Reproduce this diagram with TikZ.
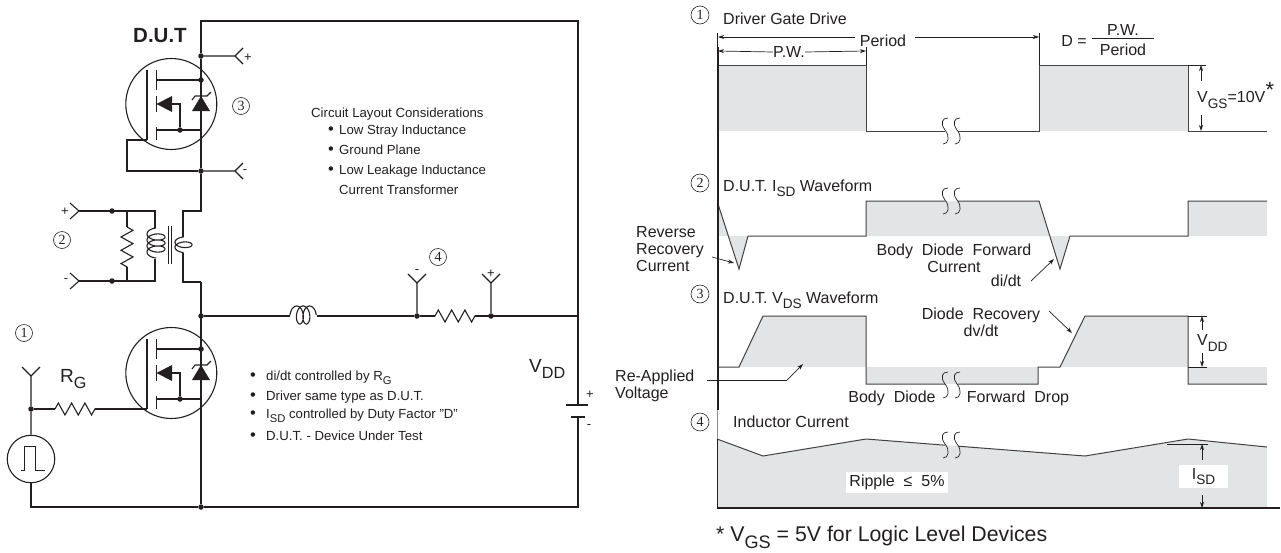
\documentclass[tikz,border=0pt]{standalone}
\usepackage{fontspec}
\setmainfont{Liberation Sans}
\newfontfamily\digitfont{Liberation Serif}
\usepackage{graphicx}
\usepackage{tikz}
\usetikzlibrary{arrows.meta,decorations.pathmorphing,positioning}
\definecolor{ink}{HTML}{231F20}
\definecolor{greyfill}{HTML}{E3E4E6}
\tikzset{
  wire/.style={draw=ink,line width=1.1pt},
  thinwire/.style={draw=ink,line width=0.7pt},
  wave/.style={draw=ink!85,line width=1pt,line join=miter},
  dim/.style={draw=ink,line width=0.7pt,-{Stealth[length=6pt,width=4pt]}},
  junction/.style={circle,fill=ink,inner sep=0pt,minimum size=5.5pt},
  res/.style={wire,decorate,decoration={zigzag,amplitude=6pt,segment length=13.3pt}},
  circnum/.style={circle,draw=ink,line width=0.6pt,inner sep=0pt,minimum size=17pt,text=ink,font=\digitfont\fontsize{14}{14}\selectfont},
  small/.style={text=ink,inner sep=0pt,align=left,font=\fontsize{13.2}{15}\selectfont},
  big/.style={text=ink,inner sep=0pt,align=center,font=\fontsize{16}{17}\selectfont},
  large/.style={text=ink,inner sep=0pt,font=\fontsize{21.3}{23}\selectfont},
  sign/.style={text=ink,inner sep=0pt,font=\fontsize{13}{13}\selectfont},
  whitebox/.style={fill=white,draw=none},
}
\newcommand{\blt}[1]{\makebox[#1][l]{\scalebox{1.25}{\textbullet}}}
\newcommand{\subs}[1]{\raisebox{-.32em}{\scalebox{.85}{#1}}}
% coils: #1,#2 left (top) end, #3 turns, #4 pitch, #5 half width along, #6 half width across
\newcommand{\coilh}[6]{
\draw[wire,smooth] plot[domain=90:{90+360*#3-180},samples=90] ({#1+#5-#4/4+#4*\x/360-#5*sin(\x)},{#2+#6*cos(\x)});
}
\newcommand{\coilv}[6]{
\draw[wire,smooth] plot[domain=90:{90+360*#3-180},samples=110] ({#1+#6*cos(\x)},{#2+#5-#4/4+#4*\x/360-#5*sin(\x)});
}
% one MOSFET, #1 is the prefix of its names, #2 the y offset
\newcommand{\mosfet}[2]{
\begin{scope}[shift={(0,#2)}]
\node [circle,wire,minimum size=91pt,inner sep=0pt] (#1) at (171.3,0) {};
\coordinate (#1D) at (201,-24);
\coordinate (#1S) at (201,26);
\coordinate (#1G) at (147,36);
\draw[wire] (147,-34) -- (#1G);
\draw[wire] (156.5,-34) -- (156.5,-14) (156.5,-8) -- (156.5,8) (156.5,23) -- (156.5,36);
\draw[wire] (156.5,-24) -- (#1D);
\draw[wire] (156.5,26) -- (#1S);
\node [junction] (#1d) at (#1D) {};
\node [junction] (#1b) at (180,26) {};
\fill[ink] (156.5,0) -- (172,-8) -- (172,8) -- cycle;
\draw[wire] (172,0) -- (180,0) -- (#1b);
\fill[ink] (201,-8) -- (210,7) -- (192,7) -- cycle;
\draw[wire] (192,-4) -- (195,-8) -- (207,-8) -- (211,-12);
\end{scope}}
% the break in a waveform, two long S curves
\newcommand{\breakmark}[2]{
\foreach \bx in {945,957}
  \draw[thinwire] (\bx+3,#2-13) .. controls (\bx-3,#2-13) and (\bx-5,#2-8) .. (\bx,#2-1) .. controls (\bx+5,#2+5) and (\bx+4,#2+13) .. (\bx-2,#2+13);
}
\begin{document}
\begin{tikzpicture}[x=1pt,y=-1pt]
\useasboundingbox (0,0) rectangle (1281,552);
% circuit
\mosfet{Qa}{104}
\mosfet{Qb}{373}
\coordinate (TL) at (201,21);
\coordinate (TR) at (578,21);
\coordinate (BR) at (578,507);
\coordinate (BL) at (31,507);
\node [junction] (Jup) at (201,56) {};
\node [junction] (Jdn) at (201,171) {};
\node [junction] (Jmid) at (201,316) {};
\node [junction] (Jbot) at (201,507) {};
\coordinate (Tup) at (235,56);
\coordinate (Tdn) at (235,171);
\draw[wire] (Jbot) -- (BR) -- (TR) -- (TL) -- (Jup) -- (Jdn);
\draw[wire] (Jup) -- (Tup) -- ++(8,-8) (Tup) -- ++(8,8);
\draw[wire] (Jdn) -- (Tdn) -- ++(8,-8) (Tdn) -- ++(8,8);
\draw[wire] (QaG) -- (127,140) -- (127,171) -- (Jdn);
% current transformer
\coordinate (Sa) at (201,211);
\coordinate (Sb) at (201,282);
\coordinate (Tpa) at (79,211);
\coordinate (Tpb) at (79,281);
\node [junction] (Jpa) at (112,211) {};
\node [junction] (Jpb) at (112,281) {};
\coordinate (Pa) at (155,211);
\coordinate (Pb) at (155,281);
\draw[wire] (Jdn) -- (Sa) -- (183,211) -- (183,237);
\draw[wire] (183,253) -- (183,282) -- (Sb);
\coilv{183.5}{237}{2}{5}{4}{8.5}
\draw[wire] (Tpa) -- (Pa) -- (155,228);
\draw[wire] (155,259) -- (Pb) -- (Tpb);
\coilv{156}{228}{4}{6}{4.5}{9}
\draw[thinwire] (168,226) -- (168,264) (171,226) -- (171,264);
\draw[wire] (Tpa) -- ++(-9,-8) (Tpa) -- ++(-9,8);
\draw[wire] (Tpb) -- ++(-9,-8) (Tpb) -- ++(-9,8);
\draw[wire] (127,211) -- (127,227);
\draw[wire] (127,267) -- (127,281);
\draw[res] (127,227) -- (127,267);
% main branch
\coordinate (Mr) at (578,316);
\node [junction] (Jma) at (417,316) {};
\node [junction] (Jmb) at (491,316) {};
\coordinate (Ya) at (417,283);
\coordinate (Yb) at (491,283);
\draw[wire] (Sb) -- (Jbot);
\draw[wire] (Jmid) -- (290,316);
\coilh{290}{315}{3}{6.5}{5}{9}
\draw[wire] (317,316) -- (Jma) -- (435,316);
\draw[res] (435,316) -- (475,316);
\draw[wire] (475,316) -- (Mr);
\draw[wire] (Jma) -- (Ya) -- ++(-9,-9) (Ya) -- ++(9,-9);
\draw[wire] (Jmb) -- (Yb) -- ++(-9,-9) (Yb) -- ++(9,-9);
% battery
\fill[white] (570,406) rectangle (586,416);
\draw[wire] (566,405) -- (588,405);
\draw[wire] (571,417) -- (585,417);
% gate drive
\node [junction] (Jg) at (31,409) {};
\coordinate (Yg) at (31,376);
\node [circle,wire,minimum size=47.5pt,inner sep=0pt] (Gen) at (31,459) {};
\draw[wire] (QbG) -- (95,409);
\draw[res] (55,409) -- (95,409);
\draw[wire] (55,409) -- (Jg);
\draw[wire] (Gen) -- (Jg) -- (Yg) -- ++(-9,-9) (Yg) -- ++(9,-9);
\draw[wire] (Gen) -- (BL) -- (Jbot);
\draw[thinwire] (21,470) -- (24,470) -- (24,446) -- (35,446) -- (35,470) -- (45,470);
% circuit labels
\node [text=ink,inner sep=0pt,font=\bfseries\fontsize{20.5}{20.5}\selectfont] (dut) at (160,36) {D.U.T};
\node [circnum] (n3) at (241,106) {3};
\node [circnum] (n2) at (62,240) {2};
\node [circnum] (n1) at (24,333) {1};
\node [circnum] (n4) at (438,257) {4};
\node [sign] (pa) at (248,58) {+};
\node [sign] (ma) at (245,172) {-};
\node [sign] (pb) at (65,212) {+};
\node [sign] (mb) at (66,281) {-};
\node [sign] (mc) at (417,272) {-};
\node [sign] (pc) at (491,274) {+};
\node [sign] (pd) at (590,395) {+};
\node [sign] (md) at (589,427) {-};
\node [text=ink,inner sep=0pt,anchor=west,font=\fontsize{19}{19}\selectfont] (rg) at (60,379) {R\subs{G}};
\node [text=ink,inner sep=0pt,anchor=west,font=\fontsize{19}{19}\selectfont] (vdd) at (529,369) {V\subs{DD}};
\node [small,anchor=west] (layout) at (311,114) {Circuit Layout Considerations};
\node [small,anchor=west] (la) at (328,131) {\blt{11pt}Low Stray Inductance};
\node [small,anchor=west] (lb) at (328,150) {\blt{11pt}Ground Plane};
\node [small,anchor=west] (lc) at (328,171) {\blt{11pt}Low Leakage Inductance};
\node [small,anchor=west] (ld) at (339,190) {Current Transformer};
\node [small,anchor=west] (ba) at (250,378) {\blt{16pt}di/dt controlled by R\subs{G}};
\node [small,anchor=west] (bb) at (250,397) {\blt{16pt}Driver same type as D.U.T.};
\node [small,anchor=west] (bc) at (250,416) {\blt{16pt}I\subs{SD} controlled by Duty Factor \symbol{34}D\symbol{34}};
\node [small,anchor=west] (bd) at (250,436) {\blt{16pt}D.U.T. - Device Under Test};
% waveform fills
\fill[greyfill] (718,65) rectangle (866,131);
\fill[greyfill] (1039,65) rectangle (1188,131);
\fill[greyfill] (718,204) -- (729,236) -- (718,236) -- cycle;
\fill[greyfill] (729,236) -- (739,269) -- (748,236) -- cycle;
\fill[greyfill] (866,201) -- (1039,201) -- (1050,236) -- (866,236) -- cycle;
\fill[greyfill] (1050,236) -- (1060,269) -- (1070,236) -- cycle;
\fill[greyfill] (1188,201) rectangle (1267,236);
\fill[greyfill] (739,367) -- (763,316) -- (866,316) -- (866,367) -- cycle;
\fill[greyfill] (866,367) rectangle (1038,384);
\fill[greyfill] (1060,367) -- (1085,316) -- (1188,316) -- (1188,367) -- cycle;
\fill[greyfill] (1188,367) rectangle (1267,384);
\fill[greyfill] (717,439) -- (763,456) -- (866,439) -- (1085,456) -- (1188,439) -- (1267,447) -- (1267,508) -- (717,508) -- cycle;
% waveforms
\draw[wave] (718,65) -- (866,65) -- (866,131) -- (945,131) (958,131) -- (1039,131) -- (1039,65) -- (1188,65) -- (1188,131) -- (1267,131);
\draw[wave] (718,204) -- (739,269) -- (748,236) -- (866,236) -- (866,201) -- (945,201) (958,201) -- (1039,201) -- (1060,269) -- (1070,236) -- (1188,236) -- (1188,201) -- (1267,201);
\draw[wave] (718,367) -- (739,367) -- (763,316) -- (866,316) -- (866,384) -- (945,384) (958,384) -- (1038,384) -- (1038,367) -- (1060,367) -- (1085,316) -- (1188,316) -- (1188,384) -- (1267,384);
\draw[wave] (717,439) -- (763,456) -- (866,439) -- (945,445.2) (958,446.2) -- (1085,456) -- (1188,439) -- (1267,447);
\breakmark{b1}{131}
\breakmark{b2}{201}
\breakmark{b3}{385}
\breakmark{b4}{445}
% axes
\draw[draw=ink,line width=2.4pt] (718,47) -- (718,410);
\draw[draw=ink,line width=0.7pt] (717.5,33) -- (717.5,47);
\draw[draw=ink!50,line width=0.5pt] (717,410) -- (717,439);
\draw[draw=ink,line width=0.8pt] (717,439) -- (717,508);
\draw[draw=ink,line width=1.8pt] (717,508.3) -- (1280,508.3);
% period and pulse width
\node [big] (period) at (883,41) {Period};
\node [big] (pw) at (789,52) {P.W.};
\coordinate (Pl) at (718,37);
\coordinate (Pr) at (1039,37);
\coordinate (Wl) at (718,51);
\coordinate (Wr) at (866,51);
\draw[dim] (855,37) -- (Pl);
\draw[dim] (915,37) -- (Pr);
\draw[dim] (pw.west) -- (Wl);
\draw[dim] (pw.east) -- (Wr);
\draw[thinwire] (1039,33) -- (1039,65);
\draw[thinwire] (866,47) -- (866,65);
% duty factor
\node [big] (dd) at (1074,41) {D =};
\node [big] (dn) at (1123,30) {P.W.};
\node [big] (dp) at (1123,50) {Period};
\coordinate (Fa) at (1092,38);
\coordinate (Fb) at (1154,38);
\draw[thinwire] (Fa) -- (Fb);
% gate voltage
\coordinate (Ga) at (1201,65);
\coordinate (Gb) at (1201,131);
\draw[thinwire] (1188,65) -- (1206,65);
\draw[dim] (1201,81) -- (Ga);
\draw[dim] (1201,115) -- (Gb);
\node [big,anchor=west] (vgs) at (1197,100) {V\subs{GS}=10V};
\node [text=ink,inner sep=0pt,font=\fontsize{22}{22}\selectfont] (star) at (1270,90) {*};
% waveform titles
\node [circnum,minimum size=18pt] (w1) at (700,15) {1};
\node [circnum,minimum size=18pt] (w2) at (700,183) {2};
\node [circnum,minimum size=18pt] (w3) at (700,294) {3};
\node [circnum,minimum size=18pt] (w4) at (700,422) {4};
\node [big,anchor=west] (t1) at (723,19) {Driver Gate Drive};
\node [big,anchor=west] (t2) at (723,188) {D.U.T. I\subs{SD} Waveform};
\node [big,anchor=west] (t3) at (723,300) {D.U.T. V\subs{DS} Waveform};
\node [big,anchor=west] (t4) at (733,422) {Inductor Current};
% waveform notes
\node [big,align=left,anchor=west] (rrc) at (636,249) {Reverse\\Recovery\\Current};
\coordinate (Ra) at (712,257);
\coordinate (Rb) at (734,263);
\draw[dim] (Ra) -- (Rb);
\node [big] (bdf) at (954,258) {Body~~Diode~~Forward\\Current};
\node [big] (didt) at (1006,281) {di/dt};
\coordinate (Da) at (1031,281);
\coordinate (Db) at (1054,259);
\draw[dim] (Da) -- (Db);
\node [big] (drd) at (981,322) {Diode~~Recovery\\dv/dt};
\coordinate (Dc) at (1049,311);
\coordinate (Dd) at (1072,333);
\draw[dim] (Dc) -- (Dd);
\node [big,align=left,anchor=west] (rav) at (615,386) {Re-Applied\\Voltage};
\coordinate (Va) at (707,380);
\coordinate (Vb) at (787,380);
\coordinate (Vc) at (803,364);
\draw[thinwire] (Va) -- (Vb);
\draw[dim] (Vb) -- (Vc);
\node [big] (bdd) at (892,398) {Body~~Diode};
\node [big] (fwd) at (1018,398) {Forward~~Drop};
% drain voltage
\coordinate (Ua) at (1202,316);
\coordinate (Ub) at (1202,367);
\draw[thinwire] (1188,316) -- (1207,316);
\draw[thinwire] (1188,367) -- (1207,367);
\draw[dim] (1202,330) -- (Ua);
\draw[dim] (1202,353) -- (Ub);
\node [big,anchor=west] (vd) at (1197,343) {V\subs{DD}};
% inductor current
\node [big,whitebox,minimum width=102pt,minimum height=21pt] (rip) at (897,482.5) {Ripple ~≤~ 5\%};
\node [big,whitebox,minimum width=49pt,minimum height=23pt] (isd) at (1203.5,476.5) {I\subs{SD}};
\coordinate (Ia) at (1202,444);
\coordinate (Ib) at (1202,508);
\draw[thinwire] (1167,444) -- (1208,444);
\draw[dim] (1202,460) -- (Ia);
\draw[dim] (1202,495) -- (Ib);
% footnote
\node [large,anchor=west] (note) at (716,537) {* V\subs{GS} = 5V for Logic Level Devices};
\end{tikzpicture}
\end{document}
